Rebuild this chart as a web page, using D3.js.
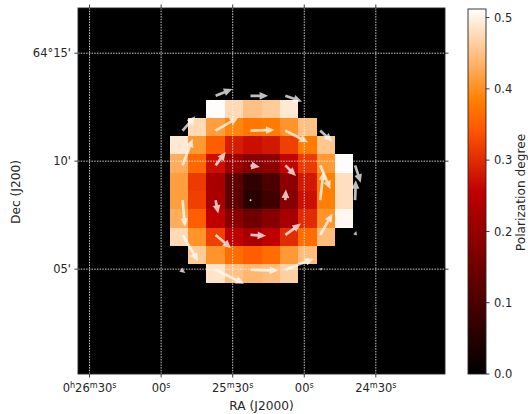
<!DOCTYPE html>
<html><head><meta charset="utf-8">
<script src="https://cdn.jsdelivr.net/npm/d3@7"></script>
<style>html,body{margin:0;padding:0;background:#fff}svg{display:block}text{font-family:"DejaVu Sans";fill:#262626}</style>
</head><body><svg id="c" width="528" height="414"></svg>
<script>
// Polarization degree per map pixel; first row/column offsets locate the block in the 20x20 map
const rowStart = [7,6,5,5,5,5,5,5,6,7];
const row0 = [.51,.475,.45,.46,.49];
const row1 = [.475,.415,.39,.375,.38,.405,.45];
const row2 = [.49,.41,.35,.285,.27,.28,.32,.38,.455];
const row3 = [.43,.36,.27,.21,.18,.19,.26,.315,.41,.51];
const row4 = [.415,.315,.225,.125,.065,.105,.19,.28,.385,.48];
const row5 = [.415,.32,.225,.125,.055,.085,.18,.27,.385,.48];
const row6 = [.43,.35,.255,.18,.15,.18,.225,.30,.405,.505];
const row7 = [.475,.405,.32,.255,.225,.255,.30,.365,.445];
const row8 = [.46,.405,.365,.35,.365,.41,.445];
const row9 = [.485,.45,.44,.445,.465];
const rows = [row0,row1,row2,row3,row4,row5,row6,row7,row8,row9];
const firstRow = 5;

// Polarization vectors: tail and tip, in map pixel units
const vecX0 = [7.5,9.4,11.3, 5.7,7.5,9.4,11.3,13.2, 5.7,7.5,9.4,11.3,13.2,15.1, 5.7,7.5,9.4,11.3,13.2,15.1, 5.7,7.5,9.4,11.3,13.2,15.1, 5.6,7.5,9.4,11.3,13.2];
const vecY0 = [4.8,4.8,4.8, 6.7,6.7,6.7,6.7,6.7, 8.6,8.6,8.6,8.6,8.6,8.6, 10.5,10.5,10.5,10.5,10.5,10.5, 12.4,12.4,12.4,12.4,12.4,12.4, 14.3,14.3,14.3,14.3,14.3];
const vecDX = [.91,.96,.91, .69,1.24,1.31,1.24,.66, .55,.55,.51,.58,.56,.31, .13,.14,.05,.03,.18,.04, .85,.85,.85,.85,.67,.07, .25,1.55,1.51,1.55,.13];
const vecDY = [-.38,0,.31, -.78,-.73,-.04,.64,.6, -1.46,-.73,.09,.58,1.31,.95, 1.46,.73,.02,-.58,-1.57,-1.09, 1.45,.73,.05,-.62,-1.17,-.22, .18,.77,.05,-.6,-.09];

const L = 78, R = 445, T = 8, B = 374;
const FT = 11.5, FL = 12.2;
const svg = d3.select("#c");
const x = d3.scaleLinear().domain([0,20]).range([L,R]);
const y = d3.scaleLinear().domain([0,20]).range([T,B]);
const vmax = 0.512;
const cr = d3.scaleLinear().domain([0,1/1.5,1]).range([0,255,255]);
const cg = d3.scaleLinear().domain([0,.5,1]).range([0,0,255]);
const cb = d3.scaleLinear().domain([0,.75,1]).range([0,0,255]);
const color = v => { const t = Math.min(1,Math.max(0,v/vmax)); return d3.rgb(cr(t),cg(t),cb(t)).formatHex(); };

svg.append("rect").attr("x",L).attr("y",T).attr("width",R-L).attr("height",B-T).attr("fill","#000");

const cells = rows.flatMap((r,i)=>r.map((v,j)=>({c:rowStart[i]+j,r:firstRow+i,v})));
svg.append("g").attr("shape-rendering","crispEdges").selectAll("rect").data(cells).join("rect")
  .attr("x",d=>x(d.c)).attr("y",d=>y(d.r))
  .attr("width",d=>x(d.c+1)-x(d.c)).attr("height",d=>y(d.r+1)-y(d.r))
  .attr("fill",d=>color(d.v));

// Coordinate ticks
const raTicks = [0.63,4.53,8.43,12.33,16.23];
const raLabels = [["0","h","26","m","30","s"],["00","s"],["25","m","30","s"],["00","s"],["24","m","30","s"]];
const decTicks = [2.47,8.37,14.27];
const decLabels = ["64°15'","10'","05'"];

const grid = svg.append("g").attr("stroke","#fff").attr("stroke-width",.9).attr("stroke-dasharray","1.5 1.2").attr("opacity",.9);
raTicks.forEach(t=>grid.append("line").attr("x1",x(t)).attr("x2",x(t)).attr("y1",T).attr("y2",B));
decTicks.forEach(t=>grid.append("line").attr("y1",y(t)).attr("y2",y(t)).attr("x1",L).attr("x2",R));

// Vectors
const arrow = (x0,y0,x1,y1) => {
  const dx=x1-x0, dy=y1-y0, len=Math.hypot(dx,dy)||.001;
  const w=2.7, hl=Math.min(8.5,len), hw=7.8*Math.min(1,Math.max(.35,len/8.5)), sw=len>8.5?w:0;
  const ux=dx/len, uy=dy/len, px=-uy, py=ux, bx=x1-ux*hl, by=y1-uy*hl;
  const p=[];
  if(sw){p.push([x0+px*sw/2,y0+py*sw/2],[bx+px*sw/2,by+py*sw/2]);}
  p.push([bx+px*hw/2,by+py*hw/2],[x1,y1],[bx-px*hw/2,by-py*hw/2]);
  if(sw){p.push([bx-px*sw/2,by-py*sw/2],[x0-px*sw/2,y0-py*sw/2]);}
  return p.map(q=>q[0].toFixed(2)+","+q[1].toFixed(2)).join(" ");
};
svg.append("g").selectAll("polygon").data(vecX0.map((v,i)=>i)).join("polygon")
  .attr("points",i=>arrow(x(vecX0[i]),y(vecY0[i]),x(vecX0[i]+vecDX[i]),y(vecY0[i]+vecDY[i])))
  .attr("fill","#fff").attr("fill-opacity",.75);
svg.append("circle").attr("cx",x(9.4)).attr("cy",y(10.5)).attr("r",.9).attr("fill","#ddd");

// Frame and tick marks
const ax = svg.append("g").attr("stroke","#262626").attr("stroke-width",.9);
raTicks.forEach(t=>{ax.append("line").attr("x1",x(t)).attr("x2",x(t)).attr("y1",B).attr("y2",B+3.5);ax.append("line").attr("x1",x(t)).attr("x2",x(t)).attr("y1",T).attr("y2",T-3.5);});
decTicks.forEach(t=>{ax.append("line").attr("y1",y(t)).attr("y2",y(t)).attr("x1",L).attr("x2",L-3.5);ax.append("line").attr("y1",y(t)).attr("y2",y(t)).attr("x1",R).attr("x2",R+3.5);});
ax.append("rect").attr("x",L).attr("y",T).attr("width",R-L).attr("height",B-T).attr("fill","none");

raTicks.forEach((t,i)=>{
  const tx = svg.append("text").attr("x",x(t)).attr("y",392).attr("text-anchor","middle").attr("font-size",FT);
  let wasSup=false;
  raLabels[i].forEach(s=>{
    const sup = /[hms]/.test(s);
    tx.append("tspan").attr("font-size",sup?8.1:FT).attr("dy",sup?-4:(wasSup?4:0)).text(s);
    wasSup=sup;
  });
});
decTicks.forEach((t,i)=>svg.append("text").attr("x",71).attr("y",y(t)+4.2).attr("text-anchor","end").attr("font-size",FT).text(decLabels[i]));
svg.append("text").attr("x",261.5).attr("y",410).attr("text-anchor","middle").attr("font-size",FL).text("RA (J2000)");
svg.append("text").attr("transform","translate(20,192) rotate(-90)").attr("text-anchor","middle").attr("font-size",FL).text("Dec (J200)");

// Colour bar
const CL=468, CR=486, CT=9;
const cbY = d3.scaleLinear().domain([0,vmax]).range([B,CT]);
const defs = svg.append("defs");
const grad = defs.append("linearGradient").attr("id","cbg").attr("x1",0).attr("x2",0).attr("y1",1).attr("y2",0);
d3.range(0,1.001,.02).forEach(t=>grad.append("stop").attr("offset",t).attr("stop-color",color(t*vmax)));
svg.append("rect").attr("x",CL).attr("y",CT).attr("width",CR-CL).attr("height",B-CT).attr("fill","url(#cbg)").attr("stroke","#262626").attr("stroke-width",.9);
const cbTicks=[0,.1,.2,.3,.4,.5];
cbTicks.forEach(v=>{
  svg.append("line").attr("x1",CR).attr("x2",CR+3.5).attr("y1",cbY(v)).attr("y2",cbY(v)).attr("stroke","#262626").attr("stroke-width",.9);
  svg.append("text").attr("x",CR+8).attr("y",cbY(v)+4.2).attr("font-size",FT).text(v.toFixed(1));
});
svg.append("text").attr("transform","translate(525,192.5) rotate(-90)").attr("text-anchor","middle").attr("font-size",FL).text("Polarization degree");
</script></body></html>
